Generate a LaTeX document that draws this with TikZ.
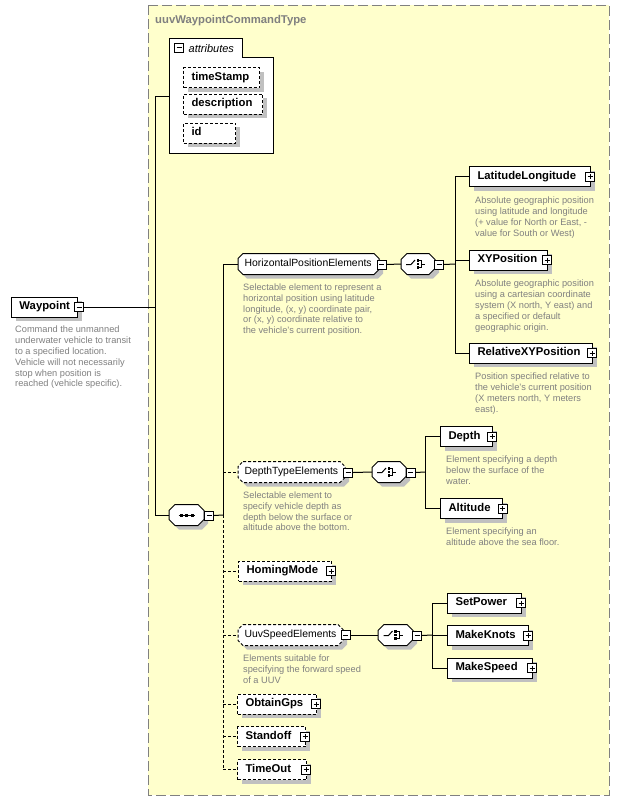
\documentclass[tikz,border=0pt]{standalone}
\usepackage{fontspec}
\setmainfont{Liberation Sans}
\usetikzlibrary{shadows}
\makeatletter
\pgfkeys{/pgf/chamfer len/.initial=5pt}
\pgfdeclareshape{xchamf}{
  \inheritsavedanchors[from=rectangle]
  \inheritanchorborder[from=rectangle]
  \inheritanchor[from=rectangle]{center}
  \inheritanchor[from=rectangle]{mid}
  \inheritanchor[from=rectangle]{base}
  \inheritanchor[from=rectangle]{north}
  \inheritanchor[from=rectangle]{south}
  \inheritanchor[from=rectangle]{east}
  \inheritanchor[from=rectangle]{west}
  \inheritanchor[from=rectangle]{north east}
  \inheritanchor[from=rectangle]{north west}
  \inheritanchor[from=rectangle]{south east}
  \inheritanchor[from=rectangle]{south west}
  \backgroundpath{
    \pgfmathsetlength\pgf@xc{\pgfkeysvalueof{/pgf/chamfer len}}%
    \southwest \pgf@xa=\pgf@x \pgf@ya=\pgf@y
    \northeast \pgf@xb=\pgf@x \pgf@yb=\pgf@y
    \pgfpathmoveto{\pgfqpoint{\dimexpr\pgf@xa+\pgf@xc\relax}{\pgf@yb}}%
    \pgfpathlineto{\pgfqpoint{\dimexpr\pgf@xb-\pgf@xc\relax}{\pgf@yb}}%
    \pgfpathlineto{\pgfqpoint{\pgf@xb}{\dimexpr\pgf@yb-\pgf@xc\relax}}%
    \pgfpathlineto{\pgfqpoint{\pgf@xb}{\dimexpr\pgf@ya+\pgf@xc\relax}}%
    \pgfpathlineto{\pgfqpoint{\dimexpr\pgf@xb-\pgf@xc\relax}{\pgf@ya}}%
    \pgfpathlineto{\pgfqpoint{\dimexpr\pgf@xa+\pgf@xc\relax}{\pgf@ya}}%
    \pgfpathlineto{\pgfqpoint{\pgf@xa}{\dimexpr\pgf@ya+\pgf@xc\relax}}%
    \pgfpathlineto{\pgfqpoint{\pgf@xa}{\dimexpr\pgf@yb-\pgf@xc\relax}}%
    \pgfpathclose
  }
}
\makeatother
\definecolor{bgyellow}{RGB}{255,255,204}
\definecolor{shadowgray}{RGB}{192,192,192}
\definecolor{descgray}{RGB}{128,128,128}
\definecolor{bordergray}{RGB}{128,128,128}
\newcommand\elfont{\fontsize{11.3}{13}\selectfont\bfseries}
\newcommand\grfont{\fontsize{10.4}{12}\selectfont}
\newcommand\dsfont{\fontsize{9.25}{10.8}\selectfont}
\newcommand\tifont{\fontsize{11.3}{13}\selectfont\bfseries}
\newcommand\choicesym[1]{%
  \draw[line width=1pt] ([shift={(-12,0.5)}]#1.center) -- ([shift={(-7,0.5)}]#1.center) -- ([shift={(-3,-4)}]#1.center);
  \fill ([shift={(-1.3,-4.8)}]#1.center) rectangle ++(2.6,2.6);
  \fill ([shift={(-1.3,-1.3)}]#1.center) rectangle ++(2.6,2.6);
  \fill ([shift={(-1.3,2.2)}]#1.center) rectangle ++(2.6,2.6);
  \draw[line width=0.8pt] ([shift={(1.3,-3.5)}]#1.center) -- ([shift={(3.5,-3.5)}]#1.center) -- ([shift={(3.5,3.5)}]#1.center) -- ([shift={(1.3,3.5)}]#1.center);
  \draw[line width=0.8pt] ([shift={(3.5,0)}]#1.center) -- ([shift={(7,0)}]#1.center);
}
\tikzset{
  ln/.style={line width=1pt, draw=black},
  dln/.style={ln, dash pattern=on 3pt off 2pt},
  shd/.style={drop shadow={shadow xshift=4pt, shadow yshift=-4pt, fill=shadowgray, opacity=1}},
  boxbase/.style={draw=black, line width=1pt, fill=white, shd, anchor=west,
    minimum height=20pt, inner xsep=0pt, inner ysep=0pt, text width=#1pt, align=left,
    text height=8pt, text depth=2.5pt},
  elem/.style={boxbase=#1, shape=rectangle, font=\elfont,
    execute at begin node={\leavevmode\kern8pt}},
  optelem/.style={elem=#1, dash pattern=on 3pt off 2pt},
  grp/.style={boxbase=#1, shape=xchamf, chamfer len=5pt, font=\grfont,
    execute at begin node={\leavevmode\kern6pt}},
  optgrp/.style={grp=#1, dash pattern=on 3pt off 2pt},
  comp/.style={shape=xchamf, chamfer len=6pt, draw=black, line width=1pt, fill=white, shd,
    anchor=west, minimum width=#1pt, minimum height=20pt, inner sep=0pt},
  pmbox/.style={shape=rectangle, draw=black, line width=1pt, fill=white, minimum size=9pt, inner sep=0pt},
  minus/.style={pmbox, path picture={\draw[line width=1pt] ([xshift=2pt]path picture bounding box.west) -- ([xshift=-2pt]path picture bounding box.east);}},
  plus/.style={pmbox, path picture={\draw[line width=1pt] ([xshift=2pt]path picture bounding box.west) -- ([xshift=-2pt]path picture bounding box.east) ([yshift=-2pt]path picture bounding box.north) -- ([yshift=2pt]path picture bounding box.south);}},
  desc/.style={anchor=north west, inner sep=0pt, align=left, font=\dsfont, text=descgray},
}
\begin{document}
\begin{tikzpicture}[x=1pt,y=-1pt]
\useasboundingbox (0,0) rectangle (620,801);
\fill[white] (0,0) rectangle (620,801);
% complex type container
\draw[bordergray, line width=1pt, dash pattern=on 10pt off 4pt, fill=bgyellow] (148,5) rectangle (609,795);
\node[anchor=base west, font=\tifont, text=descgray, inner sep=0pt] (title) at (155,23) {uuvWaypointCommandType};
% attributes
\draw[ln, fill=white] (169,38) -- (242,38) -- (242,57) -- (273,57) -- (273,153) -- (169,153) -- cycle;
\node[minus] (attrm) at (179,47.5) {};
\node[anchor=base west, inner sep=0pt, font=\fontsize{11}{12}\selectfont\itshape] (attrlabel) at (188.5,52) {attributes};
\coordinate (attrin) at (169,96);
\node[optelem=76] (ts) at (183,77.5) {timeStamp};
\node[optelem=79] (dsc) at (183,104) {description};
\node[optelem=52] (idn) at (183,133) {id};
% Waypoint
\node[elem=66] (wp) at (11,307) {Waypoint};
\node[minus] (wpm) at (79,307) {};
\node[desc] (wpd) at (15,326) {Command the unmanned\\underwater vehicle to transit\\to a specified location.\\Vehicle will not necessarily\\stop when position is\\reached (vehicle specific).};
\coordinate (j0) at (155,96);
\coordinate (j1) at (155,307);
\coordinate (j2) at (155,515);
% sequence
\node[comp=34] (seq) at (169,515) {};
\node[minus] (seqm) at (209,515.5) {};
\coordinate (k) at (223,515);
% HorizontalPositionElements
\node[grp=140] (hpe) at (238,264) {HorizontalPositionElements};
\node[minus] (hpem) at (381.5,264.5) {};
\node[desc] (hped) at (243,283.5) {Selectable element to represent a\\horizontal position using latitude\\longitude, (x, y) coordinate pair,\\or (x, y) coordinate relative to\\the vehicle's current position.};
\node[comp=33] (ch1) at (401,264) {};
\node[minus] (ch1m) at (439,264.5) {};
\coordinate (c1) at (455,264);
\node[elem=121] (ll) at (469,176.5) {LatitudeLongitude};
\node[plus] (llp) at (590,176.5) {};
\node[desc] (lld) at (475,197) {Absolute geographic position\\using latitude and longitude\\(+ value for North or East, -\\value for South or West)};
\node[elem=78] (xy) at (469,260) {XYPosition};
\node[plus] (xyp) at (547,260) {};
\node[desc] (xyd) at (475,280) {Absolute geographic position\\using a cartesian coordinate\\system (X north, Y east) and\\a specified or default\\geographic origin.};
\node[elem=123] (rxy) at (469,353) {RelativeXYPosition};
\node[plus] (rxyp) at (592,353) {};
\node[desc] (rxyd) at (475,373) {Position specified relative to\\the vehicle's current position\\(X meters north, Y meters\\east).};
% DepthTypeElements
\node[optgrp=106] (dte) at (238,472) {DepthTypeElements};
\node[minus] (dtem) at (348,472.5) {};
\node[desc] (dted) at (243,491.5) {Selectable element to\\specify vehicle depth as\\depth below the surface or\\altitude above the bottom.};
\node[comp=33] (ch2) at (372,472) {};
\node[minus] (ch2m) at (410.5,472.5) {};
\coordinate (c2) at (425,472);
\node[elem=52] (dep) at (440,436.5) {Depth};
\node[plus] (depp) at (492,436.5) {};
\node[desc] (depd) at (446,456) {Element specifying a depth\\below the surface of the\\water.};
\node[elem=62] (alt) at (440,508.5) {Altitude};
\node[plus] (altp) at (502.5,508.5) {};
\node[desc] (altd) at (446,528) {Element specifying an\\altitude above the sea floor.};
% HomingMode
\node[optelem=93] (hm) at (238,571) {HomingMode};
\node[plus] (hmp) at (331,571) {};
% UuvSpeedElements
\node[optgrp=104] (use) at (238,635) {UuvSpeedElements};
\node[minus] (usem) at (345.5,635) {};
\node[desc] (used) at (243,654.5) {Elements suitable for\\specifying the forward speed\\of a UUV};
\node[comp=34] (ch3) at (378,635) {};
\node[minus] (ch3m) at (417,635.5) {};
\coordinate (c3) at (432,635);
\node[elem=74] (sp) at (447,603) {SetPower};
\node[plus] (spp) at (521,603) {};
\node[elem=81] (mk) at (447,635.5) {MakeKnots};
\node[plus] (mkp) at (528,635.5) {};
\node[elem=85] (ms) at (447,668) {MakeSpeed};
\node[plus] (msp) at (532,668) {};
% remaining optional elements
\node[optelem=79] (og) at (237,704) {ObtainGps};
\node[plus] (ogp) at (316,704) {};
\node[optelem=68] (so) at (237,736.5) {Standoff};
\node[plus] (sop) at (305,736.5) {};
\node[optelem=69] (tmo) at (237,769.5) {TimeOut};
\node[plus] (tmop) at (306,769.5) {};
% compositor symbols
\draw[line width=1pt] ([xshift=-8pt]seq.center) -- ([xshift=8pt]seq.center);
\fill ([shift={(-7,-1.5)}]seq.center) rectangle ++(3,3);
\fill ([shift={(-1.5,-1.5)}]seq.center) rectangle ++(3,3);
\fill ([shift={(4,-1.5)}]seq.center) rectangle ++(3,3);
\choicesym{ch1}
\choicesym{ch2}
\choicesym{ch3}
% connectors
\draw[ln] (wpm.east) -- (j1);
\draw[ln] (j0) -- (j2);
\draw[ln] (j0) -- (attrin);
\draw[ln] (j2) -- (seq.west);
\draw[ln] (seqm.east) -- (k);
\draw[ln] (k) -- (k |- hpe.west) -- (hpe.west);
\draw[dln] (k) -- (k |- tmo.west);
\draw[dln] (k |- dte.west) -- (dte.west);
\draw[dln] (k |- hm.west) -- (hm.west);
\draw[dln] (k |- use.west) -- (use.west);
\draw[dln] (k |- og.west) -- (og.west);
\draw[dln] (k |- so.west) -- (so.west);
\draw[dln] (k |- tmo.west) -- (tmo.west);
\draw[ln] (hpem.east) -- (ch1.west);
\draw[ln] (ch1m.east) -- (c1);
\draw[ln] (c1 |- ll.west) -- (c1 |- rxy.west);
\draw[ln] (c1 |- ll.west) -- (ll.west);
\draw[ln] (c1 |- xy.west) -- (xy.west);
\draw[ln] (c1 |- rxy.west) -- (rxy.west);
\draw[ln] (dtem.east) -- (ch2.west);
\draw[ln] (ch2m.east) -- (c2);
\draw[ln] (c2 |- dep.west) -- (c2 |- alt.west);
\draw[ln] (c2 |- dep.west) -- (dep.west);
\draw[ln] (c2 |- alt.west) -- (alt.west);
\draw[ln] (usem.east) -- (ch3.west);
\draw[ln] (ch3m.east) -- (c3);
\draw[ln] (c3 |- sp.west) -- (c3 |- ms.west);
\draw[ln] (c3 |- sp.west) -- (sp.west);
\draw[ln] (c3 |- mk.west) -- (mk.west);
\draw[ln] (c3 |- ms.west) -- (ms.west);
\end{tikzpicture}
\end{document}
